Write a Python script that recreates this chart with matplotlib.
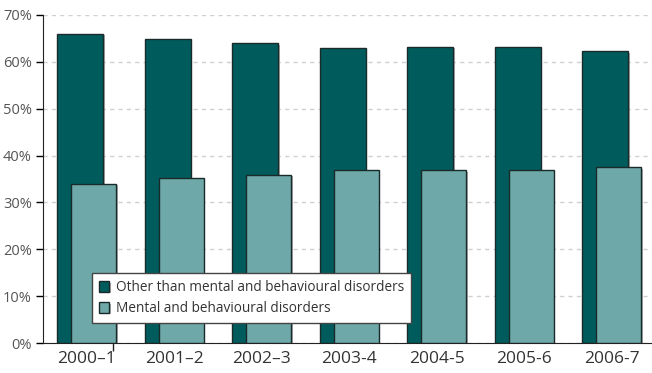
import numpy as np
import matplotlib.pyplot as plt
import matplotlib.patheffects as pe

# dados
anos = ['2000\u20131', '2001\u20132', '2002\u20133', '2003-4', '2004-5', '2005-6', '2006-7']
outros = [66.0, 64.9, 64.0, 62.9, 63.2, 63.2, 62.3]
mentais = [34.0, 35.2, 35.9, 36.9, 36.9, 36.9, 37.6]

ESCURO = '#005c5c'
CLARO = '#6fa8a8'

plt.rcParams['font.family'] = ['Open Sans', 'DejaVu Sans']

fig = plt.figure(figsize=(6.52, 3.73), dpi=100)
ax = fig.add_axes([0.066, 0.080, 0.934, 0.880])

x = np.arange(len(anos))
sombra = [pe.SimplePatchShadow(offset=(1.2, -1.2), shadow_rgbFace='#999999', alpha=0.8), pe.Normal()]

b1 = ax.bar(x - 0.074, outros, width=0.525, color=ESCURO, edgecolor='#1a2a2a',
            linewidth=1.0, label='Other than mental and behavioural disorders', zorder=2)
b2 = ax.bar(x + 0.08, mentais, width=0.51, color=CLARO, edgecolor='#1a2a2a',
            linewidth=1.0, label='Mental and behavioural disorders', zorder=3)
for b in list(b1) + list(b2):
    b.set_path_effects(sombra)

ax.set_xlim(-0.5, 6.46)
ax.set_ylim(0, 70)
ax.set_yticks(range(0, 71, 10))
ax.set_yticklabels([f'{v}%' for v in range(0, 71, 10)])
ax.yaxis.grid(True, linestyle=(0, (3, 3)), color='#d0d0d0', linewidth=1.0, zorder=0)
ax.set_axisbelow(True)

ax.set_xticks(x)
ax.set_xticklabels(anos)
ax.tick_params(axis='x', which='major', length=0, labelsize=12.5, labelcolor='#333333', pad=6)
ax.set_xticks([0.3], minor=True)
ax.tick_params(axis='x', which='minor', length=6, width=1, color='#222222')
ax.tick_params(axis='y', length=5, width=1, labelsize=10.5, labelcolor='#555555', pad=3)

for s in ['top', 'right']:
    ax.spines[s].set_visible(False)
ax.spines['left'].set_color('#222222')
ax.spines['bottom'].set_color('#222222')

leg = ax.legend(loc='lower left', bbox_to_anchor=(0.08, 0.061), borderaxespad=0,
                fontsize=9.8, fancybox=False, framealpha=1, edgecolor='#444444',
                handlelength=0.8, handleheight=0.8, handletextpad=0.5,
                borderpad=0.5, labelspacing=0.45)
leg.get_frame().set_linewidth(1.0)
for t in leg.get_texts():
    t.set_color('#333333')
leg.set_zorder(5)

fig.savefig('out.png', dpi=100)
